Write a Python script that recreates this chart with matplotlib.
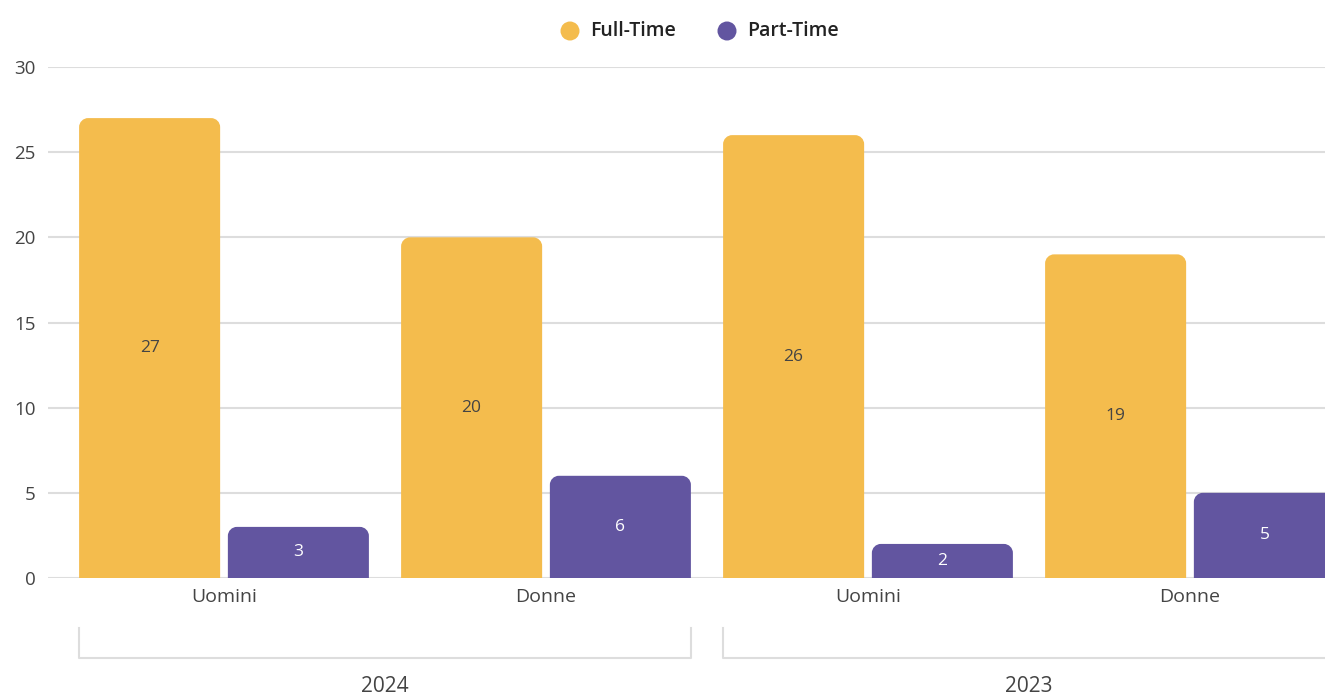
import matplotlib
matplotlib.use("Agg")
import matplotlib.pyplot as plt
from matplotlib.path import Path
from matplotlib.patches import PathPatch, Circle
from matplotlib.transforms import blended_transform_factory
import numpy as np

plt.rcParams['font.family'] = ['Open Sans', 'DejaVu Sans']

years = ["2024", "2023"]
genders = ["Uomini", "Donne"]
categories = ["Uomini", "Donne", "Uomini", "Donne"]
full_time = [27, 20, 26, 19]
part_time = [3, 6, 2, 5]
series_names = ["Full-Time", "Part-Time"]
colors = ["#F4BC4D", "#6255A0"]
label_colors = ["#444444", "#FFFFFF"]

W, H = 1325, 698
fig = plt.figure(figsize=(W / 100, H / 100), dpi=100)
band_px = 322.0
x0_px = 224.0
left_px = 48
xmin = (left_px - x0_px) / band_px
xmax = (W - x0_px) / band_px
ax = fig.add_axes([left_px / W, (H - 578) / H, (W - left_px) / W, (578 - 67) / H])
ax.set_xlim(xmin, xmax)
ax.set_ylim(0, 30)
ax.set_yticks([0, 5, 10, 15, 20, 25, 30])
ax.yaxis.grid(True, color="#DDDDDD", linewidth=1.5, zorder=0)
ax.set_axisbelow(True)
for s in ax.spines.values():
    s.set_visible(False)
ax.tick_params(axis="y", length=0, pad=9, labelsize=13.5, labelcolor="#444444")
ax.set_xticks([])

x = np.arange(len(categories))
bw = 0.438
off = 0.231
px_per_x = band_px
px_per_y = 511 / 30.0
r_px = 9.0
rx = r_px / px_per_x
ry = r_px / px_per_y


def rounded_top(xl, xr, top):
    k = 0.5523
    rry = min(ry, top / 2)
    verts = [(xl, 0), (xl, top - rry),
             (xl, top - rry + k * rry), (xl + rx - k * rx, top), (xl + rx, top),
             (xr - rx, top),
             (xr - rx + k * rx, top), (xr, top - rry + k * rry), (xr, top - rry),
             (xr, 0), (xl, 0)]
    codes = [Path.MOVETO, Path.LINETO,
             Path.CURVE4, Path.CURVE4, Path.CURVE4,
             Path.LINETO,
             Path.CURVE4, Path.CURVE4, Path.CURVE4,
             Path.LINETO, Path.CLOSEPOLY]
    return Path(verts, codes)


for si, (vals, sign) in enumerate([(full_time, -1), (part_time, 1)]):
    bars = ax.bar(x + sign * off, vals, width=bw, color=colors[si], alpha=0)
    for b, v in zip(bars, vals):
        xl = b.get_x()
        xr = xl + b.get_width()
        p = PathPatch(rounded_top(xl, xr, v), facecolor=colors[si], edgecolor="none", zorder=3)
        ax.add_patch(p)
        ax.text(xl + b.get_width() / 2, v / 2, str(v), ha="center", va="center",
                fontsize=12.5, color=label_colors[si], zorder=4)

tr = blended_transform_factory(ax.transData, fig.transFigure)
for i, c in enumerate(categories):
    ax.text(x[i], 1 - 597 / H, c, transform=tr, ha="center", va="center",
            fontsize=14, color="#444444", clip_on=False)

bracket_top = 1 - 628 / H
bracket_bot = 1 - 658 / H
for gi, yr in enumerate(years):
    a = x[2 * gi] - off - bw / 2
    b = x[2 * gi + 1] + off + bw / 2
    ax.plot([a, a, b, b], [bracket_top, bracket_bot, bracket_bot, bracket_top],
            transform=tr, color="#DDDDDD", linewidth=1.5, clip_on=False)
    ax.text((a + b) / 2, 1 - 687 / H, yr, transform=tr, ha="center", va="center",
            fontsize=15, color="#444444", clip_on=False)

# legend
for cx_px, tx_px, name, col in [(570, 590, series_names[0], colors[0]),
                                (727, 747, series_names[1], colors[1])]:
    fig.patches.append(Circle((cx_px / 100, (H - 31) / 100), radius=0.095,
                              transform=fig.dpi_scale_trans,
                              facecolor=col, edgecolor="none"))
    fig.text(tx_px / W, 1 - 31 / H, name, ha="left", va="center", fontsize=14,
             color="#222222", fontweight="semibold")

fig.savefig("out.png", dpi=100)
